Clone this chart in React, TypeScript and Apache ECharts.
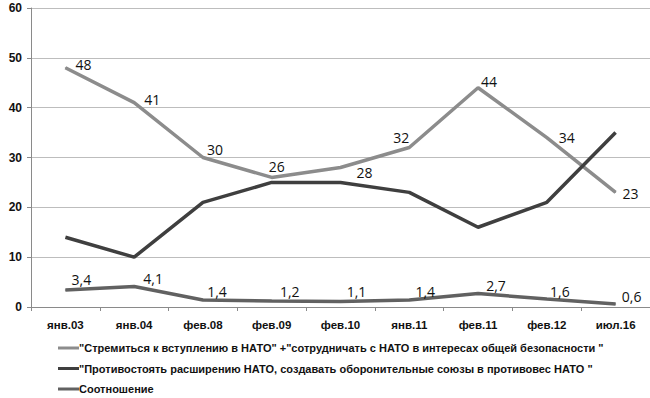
import React, { useEffect, useRef } from "react";
import * as echarts from "echarts";

const categories = ["янв.03", "янв.04", "фев.08", "фев.09", "фев.10", "янв.11", "фев.11", "фев.12", "июл.16"];
const seriesNames = [
  "\"Стремиться к вступлению в НАТО\" +\"сотрудничать с НАТО в интересах общей безопасности \"",
  "\"Противостоять расширению НАТО, создавать оборонительные союзы в противовес НАТО \"",
  "Соотношение",
];
const joinValues = [48, 41, 30, 26, 28, 32, 44, 34, 23];
const opposeValues = [14, 10, 21, 25, 25, 23, 16, 21, 35];
const ratioValues = [3.4, 4.1, 1.4, 1.2, 1.1, 1.4, 2.7, 1.6, 0.6];
const yTicks = { min: 0, max: 60, interval: 10 };

// label offsets (layout only)
const joinLabelOffsets = [[18, -3], [18, -3], [12, -8], [5, -11], [24, 5], [-8, -10], [11, -6], [20, 0], [15, 1]];
const ratioLabelOffsets = [[16, -11], [19, -8], [14, -9], [18, -10], [16, -10], [16, -9], [18, -8], [13, -8], [16, -8]];

const colors = ["#8c8c8c", "#3f3f3f", "#616161"];
const labelFont = "'Open Sans', 'Noto Sans', sans-serif";
const boldFont = "'Liberation Sans', Arial, sans-serif";

export default function App() {
  const ref = useRef<HTMLDivElement>(null);
  useEffect(() => {
    if (!ref.current) return;
    const chart = echarts.init(ref.current, null, { renderer: "svg" });
    const fmt = (v: number) => String(v).replace(".", ",");
    const mkData = (vals: number[], offs: number[][]) =>
      vals.map((v, i) => ({
        value: v,
        label: { show: true, position: "inside", offset: offs[i], formatter: () => fmt(v) },
      }));
    const labelBase = { fontFamily: labelFont, fontSize: 14, color: "#111" };
    chart.setOption({
      animation: false,
      backgroundColor: "#fff",
      grid: { left: 31, right: 0, top: 8, bottom: 91, containLabel: false },
      legend: {
        orient: "vertical",
        left: 58,
        top: 341,
        padding: 0,
        itemGap: 6.5,
        itemWidth: 21,
        itemHeight: 3,
        icon: "rect",
        textStyle: {
          fontFamily: boldFont,
          fontWeight: "bold",
          fontSize: 11,
          lineHeight: 14,
          color: "#111",
          padding: [0, 0, 0, -5],
        },
        data: seriesNames,
      },
      xAxis: {
        type: "category",
        data: categories,
        boundaryGap: true,
        axisLine: { lineStyle: { color: "#8a8a8a", width: 1 } },
        axisTick: { show: true, length: 4, lineStyle: { color: "#8a8a8a" } },
        axisLabel: { fontFamily: boldFont, fontWeight: "bold", fontSize: 11.5, color: "#111", margin: 12 },
      },
      yAxis: {
        type: "value",
        min: yTicks.min,
        max: yTicks.max,
        interval: yTicks.interval,
        axisLine: { show: true, lineStyle: { color: "#8a8a8a", width: 1 } },
        axisTick: { show: true, length: 4, lineStyle: { color: "#8a8a8a" } },
        axisLabel: { fontFamily: boldFont, fontWeight: "bold", fontSize: 12, color: "#111", margin: 9 },
        splitLine: { lineStyle: { color: "#bdbdbd", width: 1 } },
      },
      series: [
        {
          name: seriesNames[0],
          type: "line",
          data: mkData(joinValues, joinLabelOffsets),
          symbol: "circle",
          symbolSize: 1,
          lineStyle: { color: colors[0], width: 3.5 },
          itemStyle: { color: colors[0] },
          label: labelBase,
          z: 3,
        },
        {
          name: seriesNames[1],
          type: "line",
          data: opposeValues,
          symbol: "none",
          lineStyle: { color: colors[1], width: 3.5 },
          itemStyle: { color: colors[1] },
          z: 4,
        },
        {
          name: seriesNames[2],
          type: "line",
          data: mkData(ratioValues, ratioLabelOffsets),
          symbol: "circle",
          symbolSize: 1,
          lineStyle: { color: colors[2], width: 3.5 },
          itemStyle: { color: colors[2] },
          label: labelBase,
          z: 3,
        },
      ],
    });
    return () => chart.dispose();
  }, []);
  return <div ref={ref} style={{ width: 650, height: 398, position: "absolute", left: 0, top: 0 }} />;
}
